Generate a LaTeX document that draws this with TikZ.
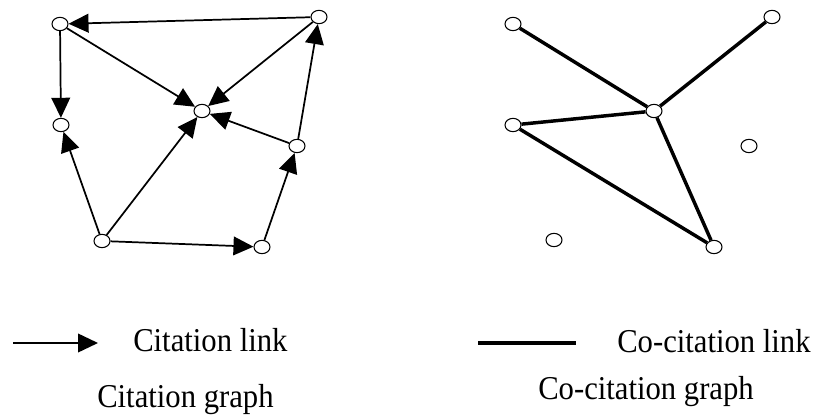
\documentclass[tikz,border=0pt]{standalone}
\usepackage{fontspec}
\setmainfont[FakeStretch=0.92]{Liberation Serif}
\usetikzlibrary{arrows.meta,positioning,shapes.geometric}

\begin{document}
\begin{tikzpicture}[x=0.75pt,y=-0.75pt,font=\fontsize{25}{29}\selectfont,
        doc/.style={ellipse,draw,fill=white,line width=0.8pt,inner sep=0pt,
                  minimum width=12pt,minimum height=10pt},
        cite/.style={-{Triangle[length=15pt,width=14pt]},line width=1.3pt},
        cocite/.style={line width=2.6pt},
        lbl/.style={anchor=base west,inner sep=0pt}]
        \useasboundingbox (0,0) rectangle (814,420);
        % citation graph
        \node[doc] (a) at (60,24) {};
        \node[doc] (b) at (319,17) {};
        \node[doc] (c) at (202,111) {};
        \node[doc] (d) at (61,125) {};
        \node[doc] (e) at (297,146) {};
        \node[doc] (f) at (102,241) {};
        \node[doc] (g) at (262,247) {};
        \draw[cite] (b)--(a);
        \draw[cite] (a)--(d);
        \draw[cite] (a)--(c);
        \draw[cite] (b)--(c);
        \draw[cite] (e)--(c);
        \draw[cite] (e)--(b);
        \draw[cite] (f)--(d);
        \draw[cite] (f)--(c);
        \draw[cite] (f)--(g);
        \draw[cite] (g)--(e);
        % co-citation graph
        \node[doc] (p1) at (513,24) {};
        \node[doc] (p2) at (772,17) {};
        \node[doc] (p3) at (654,111) {};
        \node[doc] (p4) at (513,125) {};
        \node[doc] (p5) at (749,146) {};
        \node[doc] (p6) at (554,240) {};
        \node[doc] (p7) at (714,247) {};
        \draw[cocite] (p1)--(p3);
        \draw[cocite] (p2)--(p3);
        \draw[cocite] (p4)--(p3);
        \draw[cocite] (p4)--(p7);
        \draw[cocite] (p3)--(p7);
        % legend
        \node[lbl] (citlink) at (133,352) {Citation link};
        \node[lbl] (colink) at (617,353) {Co-citation link};
        \coordinate (citl0) at (13,343);
        \coordinate (citl1) at (98,343);
        \coordinate (col0) at (478,343);
        \coordinate (col1) at (576,343);
        \draw[cite] (citl0)--(citl1);
        \draw[line width=3.6pt] (col0)--(col1);
        \node[lbl] (citgraph) at (97,407) {Citation graph};
        \node[lbl] (cograph) at (538,399) {Co-citation graph};
      \end{tikzpicture}
\end{document}
